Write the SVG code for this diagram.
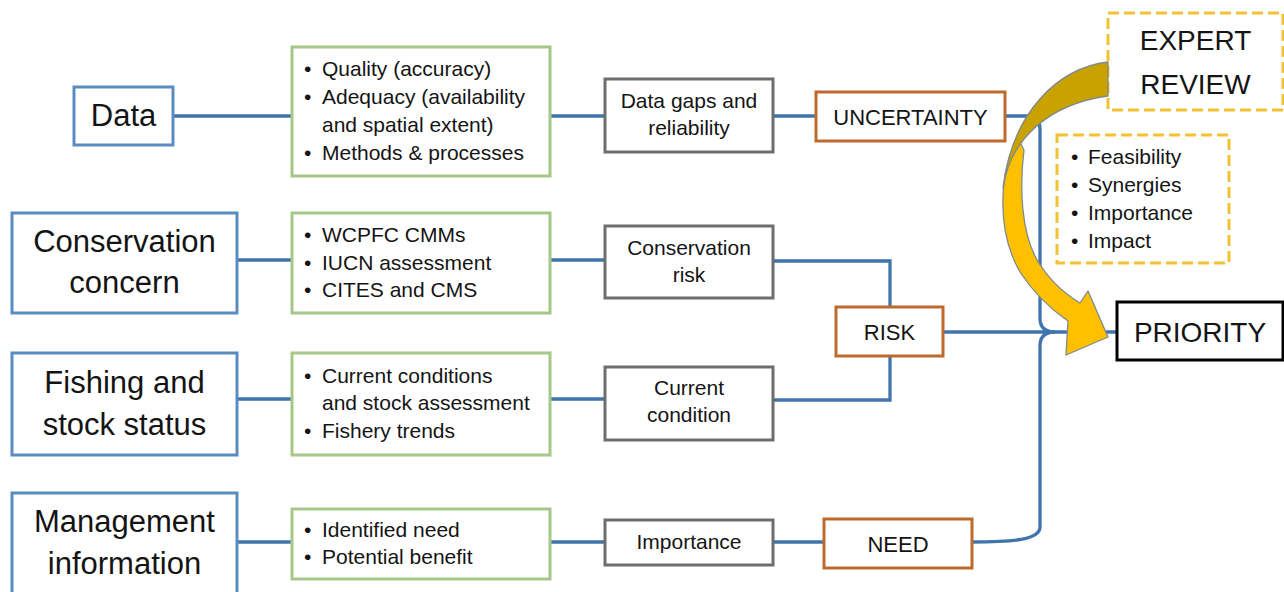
<svg xmlns="http://www.w3.org/2000/svg" width="1284" height="592" viewBox="0 0 1284 592">
<style>
  text { font-family: "Liberation Sans", Arial, sans-serif; fill: #141414; }
  .big { font-size: 31px; text-anchor: middle; }
  .mid { font-size: 21px; }
  .lbl { font-size: 22px; text-anchor: middle; }
  .c { text-anchor: middle; }
  .huge { font-size: 28px; text-anchor: middle; }
  .blue { fill: #fff; stroke: #5A8BC3; stroke-width: 3; }
  .green { fill: #fff; stroke: #A5C787; stroke-width: 3; }
  .gray { fill: #fff; stroke: #6E6E6E; stroke-width: 3; }
  .orange { fill: #fff; stroke: #BD6A2C; stroke-width: 3; }
  .dash { fill: #fff; stroke: #F1C232; stroke-width: 3; stroke-dasharray: 11 5; }
  .black { fill: #fff; stroke: #000; stroke-width: 3; }
  .conn { fill: none; stroke: #3F74AD; stroke-width: 3.3; }
</style>
<rect width="1284" height="592" fill="#fff"/>

<g id="connectors">
  <path class="conn" d="M173,116 H292"/>
  <path class="conn" d="M550,116 H605"/>
  <path class="conn" d="M773,116 H816"/>
  <path class="conn" d="M1005,116 H1027 Q1040,116 1040,129 V318 Q1040,332 1055,332"/>
  <path class="conn" d="M237,260 H292"/>
  <path class="conn" d="M550,260 H605"/>
  <path class="conn" d="M773,261 H890 V307"/>
  <path class="conn" d="M237,399 H292"/>
  <path class="conn" d="M550,399 H605"/>
  <path class="conn" d="M773,400 H890 V356"/>
  <path class="conn" d="M943,332 H1117"/>
  <path class="conn" d="M237,542 H292"/>
  <path class="conn" d="M550,542 H605"/>
  <path class="conn" d="M773,542 H824"/>
  <path class="conn" d="M972,542 C1012,542 1040,540 1040,527 V346 Q1040,332 1055,332"/>
</g>

<g id="data">
  <rect class="blue" x="74" y="87" width="99" height="58"/>
  <text class="big" x="123.5" y="126">Data</text>
</g>
<g id="conservation-concern">
  <rect class="blue" x="12" y="213" width="225" height="100"/>
  <text class="big" x="124.5" y="252">Conservation</text>
  <text class="big" x="124.5" y="293">concern</text>
</g>
<g id="fishing-stock-status">
  <rect class="blue" x="12" y="353" width="225" height="102"/>
  <text class="big" x="124.5" y="393">Fishing and</text>
  <text class="big" x="124.5" y="435">stock status</text>
</g>
<g id="management-information">
  <rect class="blue" x="12" y="493" width="225" height="110"/>
  <text class="big" x="124.5" y="532">Management</text>
  <text class="big" x="124.5" y="574">information</text>
</g>

<g id="data-criteria">
  <rect class="green" x="292" y="47" width="258" height="129"/>
  <text class="mid" x="304" y="76">•</text><text class="mid" x="322" y="76">Quality (accuracy)</text>
  <text class="mid" x="304" y="104">•</text><text class="mid" x="322" y="104">Adequacy (availability</text>
  <text class="mid" x="322" y="132">and spatial extent)</text>
  <text class="mid" x="304" y="160">•</text><text class="mid" x="322" y="160">Methods &amp; processes</text>
</g>
<g id="conservation-criteria">
  <rect class="green" x="292" y="213" width="258" height="100"/>
  <text class="mid" x="304" y="242">•</text><text class="mid" x="322" y="242">WCPFC CMMs</text>
  <text class="mid" x="304" y="270">•</text><text class="mid" x="322" y="270">IUCN assessment</text>
  <text class="mid" x="304" y="297">•</text><text class="mid" x="322" y="297">CITES and CMS</text>
</g>
<g id="fishing-criteria">
  <rect class="green" x="292" y="353" width="258" height="102"/>
  <text class="mid" x="304" y="383">•</text><text class="mid" x="322" y="383">Current conditions</text>
  <text class="mid" x="322" y="410">and stock assessment</text>
  <text class="mid" x="304" y="438">•</text><text class="mid" x="322" y="438">Fishery trends</text>
</g>
<g id="management-criteria">
  <rect class="green" x="292" y="509" width="258" height="70"/>
  <text class="mid" x="304" y="537">•</text><text class="mid" x="322" y="537">Identified need</text>
  <text class="mid" x="304" y="564">•</text><text class="mid" x="322" y="564">Potential benefit</text>
</g>

<g id="data-gaps">
  <rect class="gray" x="605" y="79" width="168" height="73"/>
  <text class="mid c" x="689" y="108">Data gaps and</text>
  <text class="mid c" x="689" y="135">reliability</text>
</g>
<g id="conservation-risk">
  <rect class="gray" x="605" y="226" width="168" height="72"/>
  <text class="mid c" x="689" y="255">Conservation</text>
  <text class="mid c" x="689" y="282">risk</text>
</g>
<g id="current-condition">
  <rect class="gray" x="605" y="367" width="168" height="73"/>
  <text class="mid c" x="689" y="395">Current</text>
  <text class="mid c" x="689" y="422">condition</text>
</g>
<g id="importance">
  <rect class="gray" x="605" y="520" width="168" height="45"/>
  <text class="mid c" x="689" y="549">Importance</text>
</g>

<g id="uncertainty">
  <rect class="orange" x="816" y="92" width="189" height="49"/>
  <text class="lbl" x="910.5" y="125">UNCERTAINTY</text>
</g>
<g id="risk">
  <rect class="orange" x="836" y="307" width="107" height="49"/>
  <text class="lbl" x="889.5" y="340">RISK</text>
</g>
<g id="need">
  <rect class="orange" x="824" y="519" width="148" height="49"/>
  <text class="lbl" x="898" y="552">NEED</text>
</g>

<g id="expert-review">
  <rect class="dash" x="1108" y="13" width="175" height="97"/>
  <text class="huge" x="1195.5" y="50">EXPERT</text>
  <text class="huge" x="1195.5" y="94">REVIEW</text>
</g>
<g id="review-criteria">
  <rect class="dash" x="1057" y="135" width="172" height="128"/>
  <text class="mid" x="1071" y="164">•</text><text class="mid" x="1088" y="164">Feasibility</text>
  <text class="mid" x="1071" y="192">•</text><text class="mid" x="1088" y="192">Synergies</text>
  <text class="mid" x="1071" y="220">•</text><text class="mid" x="1088" y="220">Importance</text>
  <text class="mid" x="1071" y="248">•</text><text class="mid" x="1088" y="248">Impact</text>
</g>

<g id="review-arrow">
  <path d="M1018,138 C1000,170 995,228 1020,272 C1035,295 1052,310 1068,321 L1066,355 L1108,337 L1088,291 L1080,303 C1062,292 1046,276 1036,258 C1022,232 1019,190 1024,150 Z" fill="#FFC000" stroke="#7E8A8E" stroke-width="1.3" stroke-linejoin="round"/>
  <path d="M1108,62 C1058,68 1012,112 1003,188 C1010,140 1048,104 1108,96 Z" fill="#C9A200" stroke="#7E8A8E" stroke-width="1.3" stroke-linejoin="round"/>
</g>

<g id="priority">
  <rect class="black" x="1117" y="302" width="166" height="58"/>
  <text class="huge" x="1200" y="342">PRIORITY</text>
</g>
</svg>
